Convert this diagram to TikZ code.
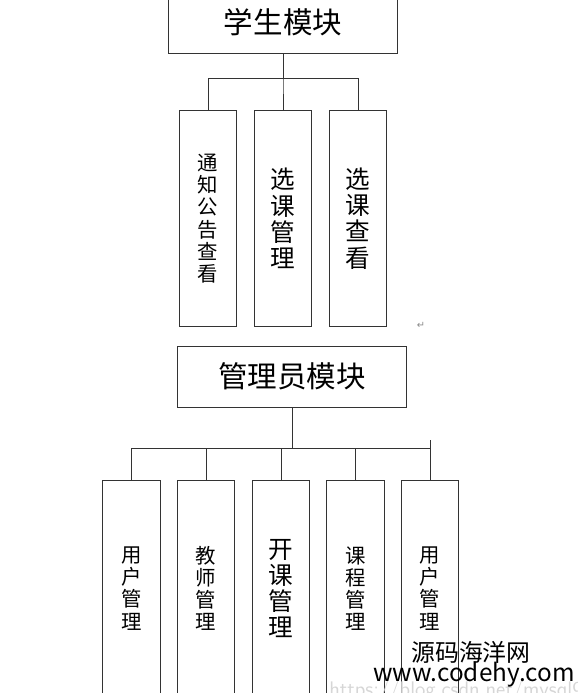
\documentclass[tikz,border=0pt]{standalone}
\usepackage{fontspec}
\newfontfamily\cjk{Noto Sans CJK SC}
\newfontfamily\symb{DejaVu Sans}
\usepackage{xcolor}
\definecolor{boxLine}{HTML}{333333}
\definecolor{markGray}{HTML}{8A8A8A}
\definecolor{csdnGray}{HTML}{D6D6D6}
\usetikzlibrary{positioning}

\begin{document}
\begin{tikzpicture}[
        x=0.025cm, y=-0.025cm,
        modbox/.style={
            draw=boxLine,
            line width=0.7pt,
            minimum width=5.7cm,
            minimum height=1.525cm,
            inner sep=0pt,
            font=\cjk\fontsize{21}{24}\selectfont
        },
        subbox/.style={
            draw=boxLine,
            line width=0.7pt,
            minimum width=1.44cm,
            minimum height=5.375cm,
            inner sep=0pt,
            align=center,
            font=\cjk\fontsize{14.5}{15.8}\selectfont
        },
        bigtext/.style={
            font=\cjk\fontsize{17.5}{18.6}\selectfont
        },
        link/.style={
            draw=boxLine,
            line width=0.7pt
        },
        wmtext/.style={
            font=\cjk\fontsize{17}{20}\selectfont,
            inner sep=0pt
        }
    ]

    \clip (0,0) rectangle (578,693);

    % student module
    \node[modbox] (stu) at (283,22.5) {学生模块};

    \node[subbox]         (s1) at (208,218.5) {通\\知\\公\\告\\查\\看};
    \node[subbox,bigtext] (s2) at (283,218.5) {选\\课\\管\\理};
    \node[subbox,bigtext] (s3) at (358,218.5) {选\\课\\查\\看};

    \foreach \n in {s1,s2,s3}{
        \draw[link] (stu.south) -- ++(0,25) -| (\n.north);
    }

    \node[font=\symb\fontsize{7}{8}\selectfont, text=markGray, inner sep=0pt] (ret) at (421,325) {↵};

    % admin module
    \node[modbox] (adm) at (292,376.5) {管理员模块};

    \foreach \i/\x/\txt in {1/131.5/用\\户\\管\\理, 2/206/教\\师\\管\\理, 4/355.5/课\\程\\管\\理, 5/430/用\\户\\管\\理}{
        \node[subbox] (a\i) at (\x,588.5) {\txt};
    }
    \node[subbox,bigtext] (a3) at (281,588.5) {开\\课\\管\\理};

    \foreach \n in {a1,a2,a3,a4,a5}{
        \draw[link] (adm.south) -- ++(0,41) -| (\n.north);
    }
    \coordinate (tick) at (430,440);
    \draw[link] (tick) -- ++(0,8);

    % watermark
    \node[text=csdnGray, font=\fontsize{15}{16}\selectfont\sffamily, anchor=west, inner sep=0pt] (csdn) at (329,691) {https://blog.csdn.net/mysql9};
    \node[wmtext] (wm1) at (471,652) {源码海洋网};
    \node[wmtext, font=\cjk\fontsize{17.3}{20}\selectfont] (wm2) at (474,675) {www.codehy.com};

\end{tikzpicture}
\end{document}
